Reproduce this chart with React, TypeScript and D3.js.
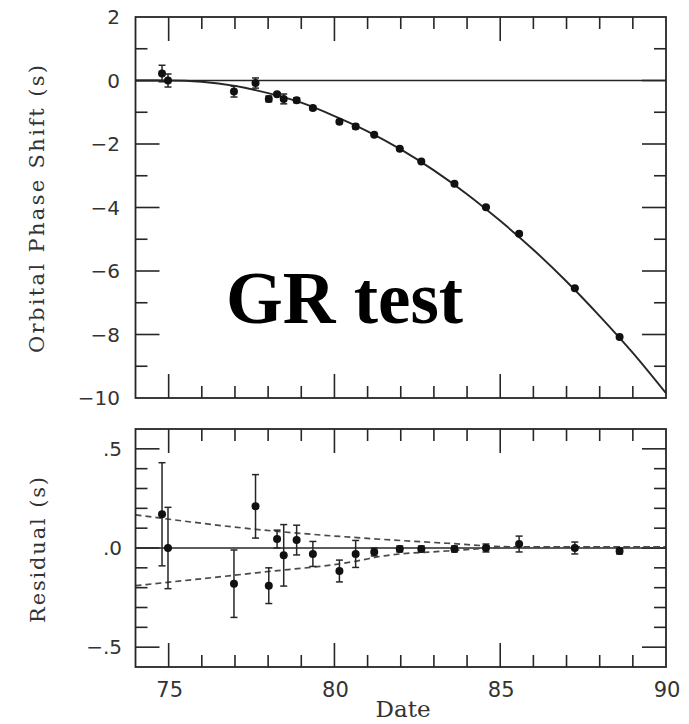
import React from 'react';
import * as d3 from 'd3';

// ---- Data ----
const obsDates = [74.8, 74.98, 76.97, 77.62, 78.02, 78.27, 78.47, 78.86, 79.35, 80.15, 80.64, 81.2, 81.97, 82.62, 83.62, 84.57, 85.57, 87.25, 88.6];
const phaseShift = [0.22, 0.0, -0.35, -0.08, -0.58, -0.43, -0.58, -0.62, -0.87, -1.3, -1.45, -1.71, -2.15, -2.55, -3.25, -3.99, -4.83, -6.54, -8.08];
const obsErrors = [0.26, 0.205, 0.17, 0.16, 0.09, 0.045, 0.155, 0.075, 0.063, 0.055, 0.068, 0.02, 0.015, 0.015, 0.015, 0.02, 0.04, 0.03, 0.015];
const residuals = [0.17, 0.0, -0.18, 0.21, -0.19, 0.045, -0.037, 0.04, -0.03, -0.116, -0.03, -0.02, -0.005, -0.005, -0.005, 0.0, 0.02, 0.0, -0.015];

const curveDates = [74, 75, 76, 77, 78, 79, 80, 81, 82, 83, 84, 85, 86, 87, 88, 89, 90];
const curveValues = [0, 0, -0.04, -0.17, -0.4, -0.7, -1.12, -1.6, -2.17, -2.83, -3.58, -4.42, -5.33, -6.33, -7.42, -8.58, -9.85];

const envUpperDates = [74, 77.64, 81.4, 83.4, 85.4, 90];
const envUpperValues = [0.167, 0.094, 0.044, 0.024, 0.006, 0.006];
const envLowerDates = [74, 77.64, 80.67, 81.4, 83.4, 85.4, 90];
const envLowerValues = [-0.19, -0.125, -0.066, -0.042, -0.015, 0.004, 0.006];

const xTickValues = [75, 80, 85, 90];
const xTickLabels = ['75', '80', '85', '90'];
const phaseTickValues = [2, 0, -2, -4, -6, -8, -10];
const phaseTickLabels = ['2', '0', '\u22122', '\u22124', '\u22126', '\u22128', '\u221210'];
const residTickValues = [0.5, 0, -0.5];
const residTickLabels = ['.5', '.0', '\u2212.5'];

// ---- Layout ----
const W = 689;
const H = 724;
const INK = '#262626';
const LABEL = '#333';

export default function App() {
  const x = d3.scaleLinear().domain([74, 90]).range([135.5, 666]);
  const yTop = d3.scaleLinear().domain([-10, 2]).range([398, 17]);
  const yBot = d3.scaleLinear().domain([-0.6, 0.6]).range([667, 429]);

  const curveLine = d3
    .line<number>()
    .x((_, i) => x(curveDates[i]))
    .y((d) => yTop(d))
    .curve(d3.curveMonotoneX);

  const envUpper = d3
    .line<number>()
    .x((_, i) => x(envUpperDates[i]))
    .y((d) => yBot(d))
    .curve(d3.curveMonotoneX);
  const envLower = d3
    .line<number>()
    .x((_, i) => x(envLowerDates[i]))
    .y((d) => yBot(d))
    .curve(d3.curveMonotoneX);

  const yearTicks = d3.range(75, 90);
  const phaseMinor = d3.range(-9, 2);
  const residMinor = d3.range(-5, 6).map((i) => i / 10);

  const MAJ = 24;
  const MIN = 12;

  const frame = (yScale: d3.ScaleLinear<number, number>) => {
    const [y0, y1] = yScale.range();
    const [x0, x1] = x.range();
    return (
      <rect x={x0} y={y1} width={x1 - x0} height={y0 - y1} fill="none" stroke={INK} strokeWidth={1.8} />
    );
  };

  const xTicks = (yScale: d3.ScaleLinear<number, number>, key: string) => {
    const [yb, yt] = yScale.range();
    return yearTicks.map((t) => {
      const len = t % 5 === 0 ? MAJ : MIN;
      return (
        <g key={key + t}>
          <line x1={x(t)} x2={x(t)} y1={yb} y2={yb - len} stroke={INK} strokeWidth={1.6} />
          <line x1={x(t)} x2={x(t)} y1={yt} y2={yt + len} stroke={INK} strokeWidth={1.6} />
        </g>
      );
    });
  };

  const yTicks = (
    vals: number[],
    yScale: d3.ScaleLinear<number, number>,
    isMajor: (v: number) => boolean,
    key: string
  ) => {
    const [x0, x1] = x.range();
    return vals.map((v) => {
      const len = isMajor(v) ? MAJ : MIN;
      return (
        <g key={key + v}>
          <line x1={x0} x2={x0 + len} y1={yScale(v)} y2={yScale(v)} stroke={INK} strokeWidth={1.6} />
          <line x1={x1} x2={x1 - len} y1={yScale(v)} y2={yScale(v)} stroke={INK} strokeWidth={1.6} />
        </g>
      );
    });
  };

  const errorBars = (vals: number[], yScale: d3.ScaleLinear<number, number>, key: string) =>
    vals.map((v, i) => {
      const cx = x(obsDates[i]);
      const ya = yScale(v + obsErrors[i]);
      const yb = yScale(v - obsErrors[i]);
      return (
        <g key={key + i}>
          <line x1={cx} x2={cx} y1={ya} y2={yb} stroke={INK} strokeWidth={1.5} />
          <line x1={cx - 3.5} x2={cx + 3.5} y1={ya} y2={ya} stroke={INK} strokeWidth={1.5} />
          <line x1={cx - 3.5} x2={cx + 3.5} y1={yb} y2={yb} stroke={INK} strokeWidth={1.5} />
          <circle cx={cx} cy={yScale(v)} r={4} fill="#111" />
        </g>
      );
    });

  const tickFont = 'DejaVu Sans, Verdana, sans-serif';
  const titleFont = 'DejaVu Serif, serif';

  return (
    <svg
      width={W}
      height={H}
      viewBox={`0 0 ${W} ${H}`}
      style={{ position: 'absolute', left: 0, top: 0, background: '#fff' }}
    >
      <rect x={0} y={0} width={W} height={H} fill="#fff" />

      {/* ---------- Top panel ---------- */}
      <line x1={x(74)} x2={x(90)} y1={yTop(0)} y2={yTop(0)} stroke={INK} strokeWidth={1.6} />
      {xTicks(yTop, 'tx')}
      {yTicks(phaseMinor, yTop, (v) => v % 2 === 0, 'ty')}
      <path d={curveLine(curveValues) || ''} fill="none" stroke={INK} strokeWidth={1.9} />
      {errorBars(phaseShift, yTop, 'tp')}
      {frame(yTop)}
      {phaseTickValues.map((v, i) => (
        <text
          key={'tl' + v}
          x={120}
          y={yTop(v)}
          dy="0.36em"
          textAnchor="end"
          fontFamily={tickFont}
          fontSize={20}
          fill={LABEL}
        >
          {phaseTickLabels[i]}
        </text>
      ))}
      <text
        transform={`translate(44, ${209}) rotate(-90)`}
        textAnchor="middle"
        fontFamily={titleFont}
        fontSize={21}
        fill={LABEL}
        textLength={288}
        lengthAdjust="spacing"
      >
        Orbital Phase Shift (s)
      </text>
      <text
        x={226}
        y={323}
        fontFamily="Liberation Serif, Times New Roman, serif"
        fontWeight="bold"
        fontSize={73}
        fill="#000"
      >
        GR test
      </text>

      {/* ---------- Bottom panel ---------- */}
      <line x1={x(74)} x2={x(90)} y1={yBot(0)} y2={yBot(0)} stroke={INK} strokeWidth={1.6} />
      {xTicks(yBot, 'bx')}
      {yTicks(residMinor, yBot, (v) => Math.abs(Math.round(v * 10)) % 5 === 0, 'by')}
      <path d={envUpper(envUpperValues) || ''} fill="none" stroke="#4a4a4a" strokeWidth={1.7} strokeDasharray="6,4" />
      <path d={envLower(envLowerValues) || ''} fill="none" stroke="#4a4a4a" strokeWidth={1.7} strokeDasharray="6,4" />
      {errorBars(residuals, yBot, 'bp')}
      {frame(yBot)}
      {residTickValues.map((v, i) => (
        <text
          key={'bl' + v}
          x={122}
          y={yBot(v)}
          dy="0.36em"
          textAnchor="end"
          fontFamily={tickFont}
          fontSize={20}
          fill={LABEL}
        >
          {residTickLabels[i]}
        </text>
      ))}
      {xTickValues.map((v, i) => (
        <text
          key={'xl' + v}
          x={x(v) + 1}
          y={697}
          textAnchor="middle"
          fontFamily={tickFont}
          fontSize={21}
          fill={LABEL}
        >
          {xTickLabels[i]}
        </text>
      ))}
      <text
        transform={`translate(45, ${550}) rotate(-90)`}
        textAnchor="middle"
        fontFamily={titleFont}
        fontSize={21}
        fill={LABEL}
        textLength={146}
        lengthAdjust="spacing"
      >
        Residual (s)
      </text>
      <text x={403} y={717} textAnchor="middle" fontFamily={titleFont} fontSize={23} fill={LABEL}>
        Date
      </text>
    </svg>
  );
}
